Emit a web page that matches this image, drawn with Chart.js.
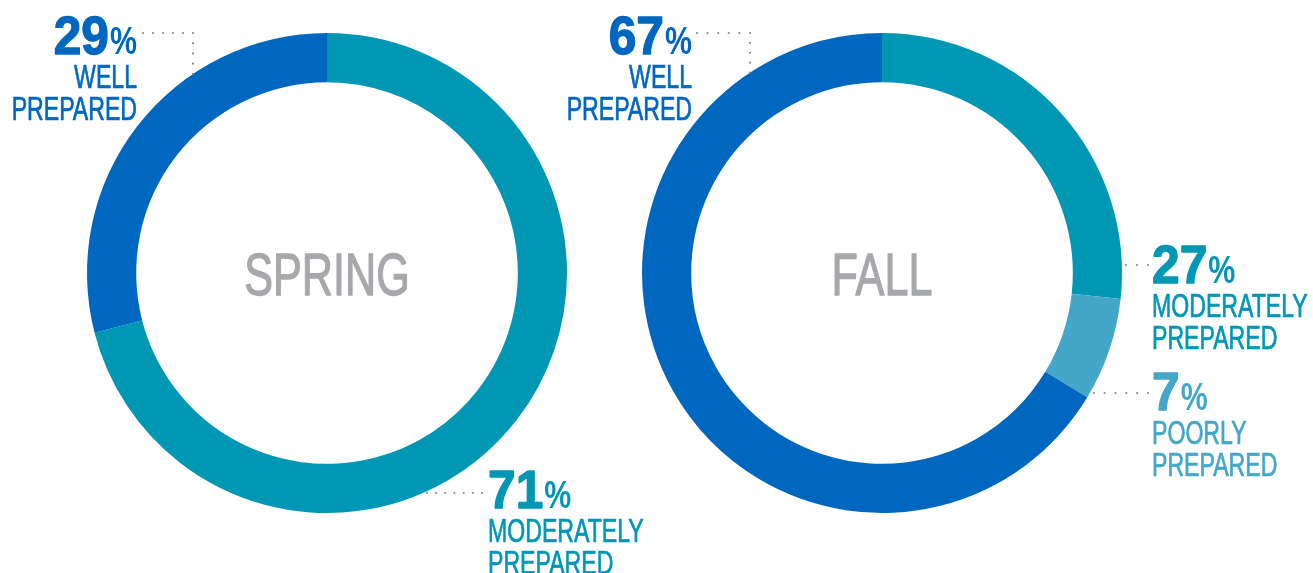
<!DOCTYPE html>
<html>
<head>
<meta charset="utf-8">
<script src="https://cdn.jsdelivr.net/npm/chart.js@4.4.1/dist/chart.umd.min.js"></script>
<style>
  html, body { margin: 0; padding: 0; background: #fff; }
  #wrap { position: relative; width: 1313px; height: 573px; overflow: hidden; }
  canvas { position: absolute; left: 0; top: 0; }
</style>
</head>
<body>
<div id="wrap">
  <canvas id="spring" width="1313" height="573"></canvas>
  <canvas id="fall" width="1313" height="573"></canvas>
</div>
<script>
// survey results, clockwise from 12 o'clock
const springLabels = ["MODERATELY PREPARED", "WELL PREPARED"];
const springValues = [71, 29];
const fallLabels = ["MODERATELY PREPARED", "POORLY PREPARED", "WELL PREPARED"];
const fallValues = [27, 7, 67];

const TEAL = "#0097b4", BLUE = "#0067c0", LIGHT = "#44a7c9", GRAY = "#a7a8ab", DOT = "#8b8785";
const FONT = "'Liberation Sans', Arial, sans-serif";
const colorFor = l => l.startsWith("WELL") ? BLUE : l.startsWith("POORLY") ? LIGHT : TEAL;

// draw text squeezed horizontally (condensed look), returns drawn width
function squeezed(ctx, text, x, y, align, font, sx, color, weight){
  ctx.save();
  ctx.font = font;
  const w = ctx.measureText(text).width * sx;
  const left = align === "right" ? x - w : align === "center" ? x - w / 2 : x;
  ctx.translate(left, y);
  ctx.scale(sx, 1);
  ctx.fillStyle = color;
  ctx.textAlign = "left";
  ctx.textBaseline = "alphabetic";
  ctx.fillText(text, 0, 0);
  if (weight){
    ctx.strokeStyle = color;
    ctx.lineWidth = weight;
    ctx.lineJoin = "round";
    ctx.strokeText(text, 0, 0);
  }
  ctx.restore();
  return w;
}

function dots(ctx, pts){
  ctx.save();
  ctx.fillStyle = DOT;
  for (let i = 0; i < pts.length - 1; i++){
    const [x0, y0] = pts[i], [x1, y1] = pts[i + 1];
    const len = Math.hypot(x1 - x0, y1 - y0), n = Math.max(1, Math.round(len / 10));
    for (let k = 0; k <= n; k++){
      if (i > 0 && k === 0) continue;
      ctx.beginPath();
      ctx.arc(x0 + (x1 - x0) * k / n, y0 + (y1 - y0) * k / n, 1.1, 0, Math.PI * 2);
      ctx.fill();
    }
  }
  ctx.restore();
}

function pctLabel(ctx, value, x, base, align, color){
  const big = `bold 54px ${FONT}`, small = `bold 38px ${FONT}`;
  ctx.font = big;
  const wNum = ctx.measureText(String(value)).width * 0.92;
  ctx.font = small;
  const wPct = ctx.measureText("%").width * 0.8;
  const left = align === "right" ? x - wNum - wPct - 1 : x;
  squeezed(ctx, String(value), left, base, "left", big, 0.92, color, 1.4);
  squeezed(ctx, "%", left + wNum + 1, base, "left", small, 0.8, color);
}

// callouts: which slice, where its text sits, how the leader runs to the ring
const springCallouts = [
  { i: 1, x: 137, y: 54, align: "right", lead: { type: "elbow", x0: 143, y: 33, x: 193 } },
  { i: 0, x: 488, y: 508, align: "left", lead: { type: "right", y: 493, x1: 482 } }
];
const fallCallouts = [
  { i: 2, x: 692, y: 54, align: "right", lead: { type: "elbow", x0: 697, y: 33, x: 750 } },
  { i: 0, x: 1152, y: 283, align: "left", lead: { type: "right", y: 265, x1: 1148 } },
  { i: 1, x: 1152, y: 410, align: "left", lead: { type: "right", y: 393, x1: 1148 } }
];

function calloutPlugin(title, callouts){
  return {
    id: "callouts",
    afterDraw(chart){
      const ctx = chart.ctx;
      const arc = chart.getDatasetMeta(0).data[0];
      const cx = arc.x, cy = arc.y, R = arc.outerRadius;
      const labels = chart.data.labels, values = chart.data.datasets[0].data;

      squeezed(ctx, title, cx, cy + 22, "center", `60px ${FONT}`, 0.72, GRAY, 1.3);

      callouts.forEach(c => {
        const color = colorFor(labels[c.i]);
        const L = c.lead;
        if (L.type === "elbow"){
          const yRing = cy - Math.sqrt(R * R - (L.x - cx) ** 2);
          dots(ctx, [[L.x0, L.y], [L.x, L.y], [L.x, yRing]]);
        } else {
          const xRing = cx + Math.sqrt(R * R - (L.y - cy) ** 2);
          dots(ctx, [[xRing + 4, L.y], [L.x1, L.y]]);
        }
        pctLabel(ctx, values[c.i], c.x, c.y, c.align, color);
        labels[c.i].split(" ").forEach((word, k) => {
          squeezed(ctx, word, c.x, c.y + 34 + k * 32, c.align, `33px ${FONT}`, 0.7, color, 0.7);
        });
      });
    }
  };
}

function donut(id, title, labels, values, padding, callouts){
  return new Chart(document.getElementById(id), {
    type: "doughnut",
    data: {
      labels,
      datasets: [{ data: values, backgroundColor: labels.map(colorFor), borderWidth: 0 }]
    },
    options: {
      responsive: false,
      animation: false,
      cutout: "79.5%",
      rotation: 0,
      layout: { padding },
      plugins: { legend: { display: false }, tooltip: { enabled: false } },
      events: []
    },
    plugins: [calloutPlugin(title, callouts)]
  });
}

donut("spring", "SPRING", springLabels, springValues, { left: 87, top: 33, right: 746, bottom: 60 }, springCallouts);
donut("fall", "FALL", fallLabels, fallValues, { left: 642, top: 33, right: 191, bottom: 60 }, fallCallouts);
</script>
</body>
</html>
